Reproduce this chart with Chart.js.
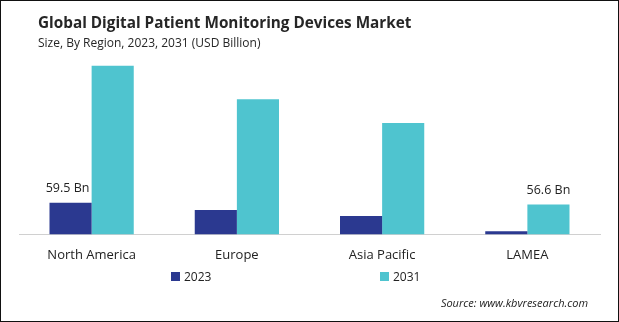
<!DOCTYPE html>
<html><head><meta charset="utf-8">
<script src="https://cdn.jsdelivr.net/npm/chart.js@4"></script>
<style>
html,body{margin:0;padding:0;background:#fff;}
#wrap{position:relative;width:619px;height:322px;box-sizing:border-box;border:1px solid #111;overflow:hidden;font-family:"Open Sans",sans-serif;}
#c{position:absolute;left:0;top:0;}
.t{position:absolute;white-space:nowrap;color:#222;}
#title{left:37px;top:11px;font-size:15.3px;font-weight:bold;color:#262626;}
#sub{left:37px;top:33px;font-size:12px;color:#262626;}
#src{right:30px;top:294px;font-size:11px;font-style:italic;color:#222;}
.lg{position:absolute;top:267px;font-size:12px;color:#222;display:flex;align-items:center;}
.lg span.sw{display:inline-block;width:9px;height:9px;margin-right:4px;}
</style></head>
<body>
<div id="wrap">
<canvas id="c" width="617" height="320"></canvas>
<div class="t" id="title">Global Digital Patient Monitoring Devices Market</div>
<div class="t" id="sub">Size, By Region, 2023, 2031 (USD Billion)</div>
<div class="lg" id="lg0" style="left:170px"></div>
<div class="lg" id="lg1" style="left:379px"></div>
<div class="t" id="src">Source: www.kbvresearch.com</div>
</div>
<script>
const categories = ["North America", "Europe", "Asia Pacific", "LAMEA"];
const seriesNames = ["2023", "2031"];
const values2023 = [59.5, 46, 34.5, 6];
const values2031 = [318, 255, 210, 56.6];
const labels2023 = ["59.5 Bn", "", "", ""];
const labels2031 = ["", "", "", "56.6 Bn"];
const colors = ["#2B3990", "#4FC4CF"];

const valueLabels = {
  id: 'valueLabels',
  afterDatasetsDraw(chart) {
    const ctx = chart.ctx;
    const lists = [labels2023, labels2031];
    ctx.save();
    ctx.font = '12.5px "Open Sans", sans-serif';
    ctx.fillStyle = '#222';
    ctx.textAlign = 'center';
    ctx.textBaseline = 'bottom';
    chart.data.datasets.forEach((ds, di) => {
      const meta = chart.getDatasetMeta(di);
      meta.data.forEach((bar, i) => {
        const t = lists[di][i];
        if (t) ctx.fillText(t, bar.x - (di === 0 ? 3 : 0), bar.y - 8);
      });
    });
    ctx.restore();
  }
};

const chart = new Chart(document.getElementById('c'), {
  type: 'bar',
  data: {
    labels: categories,
    datasets: [
      { label: seriesNames[0], data: values2023, backgroundColor: colors[0] },
      { label: seriesNames[1], data: values2031, backgroundColor: colors[1] }
    ]
  },
  options: {
    responsive: false,
    animation: false,
    devicePixelRatio: 1,
    layout: { padding: { left: 18, right: 18, top: 60, bottom: 45 } },
    datasets: { bar: { barPercentage: 1.0, categoryPercentage: 0.58 } },
    plugins: { legend: { display: false }, tooltip: { enabled: false }, title: { display: false } },
    scales: {
      x: {
        grid: { display: false, drawTicks: false },
        border: { display: true, color: '#d0d0d0', width: 1 },
        ticks: { color: '#222', font: { family: '"Open Sans", sans-serif', size: 13 }, padding: 13 }
      },
      y: { display: false, min: 0, max: 327 }
    }
  },
  plugins: [valueLabels]
});

['lg0', 'lg1'].forEach((id, i) => {
  const el = document.getElementById(id);
  el.innerHTML = '<span class="sw" style="background:' + colors[i] + '"></span>' + seriesNames[i];
});
</script>
</body></html>
